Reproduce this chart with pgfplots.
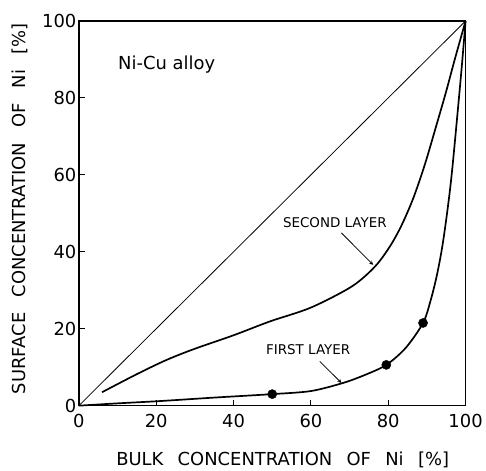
\documentclass[border=0pt]{standalone}
\usepackage{fontspec}
\setmainfont{DejaVu Sans}
\usepackage{pgfplots}
\pgfplotsset{compat=1.18}
\begin{document}
\begin{tikzpicture}
\begin{axis}[
  scale only axis, width=387bp, height=385bp,
  xmin=0, xmax=100, ymin=0, ymax=100,
  xtick={0,20,...,100}, ytick={0,20,...,100},
  tick pos=left, tick align=inside,
  major tick length=6bp,
  tick style={line width=0.9pt, black},
  axis line style={line width=1.4pt},
  /pgf/number format/assume math mode=true,
  ticklabel style={font=\fontsize{18}{18}\selectfont},
  xticklabel style={yshift=-5bp},
  yticklabel style={xshift=1bp},
  clip=false,
]
\path (axis description cs:-0.204,1.0545) (axis description cs:1.052,-0.166);
\addplot[black, line width=0.8pt] coordinates {(0,0) (100,100)};
\addplot[black, line width=1.7pt, smooth, tension=0.5] coordinates {
(6,3.5) (15,8.2) (22.7,11.9) (30,14.8) (40,18.3) (49.4,21.9) (60,25.5) (70.6,31) (76.6,36.2) (80.5,41.5) (83.5,47) (86.5,54) (89.5,62.8) (92.4,72.7) (94.9,81.4) (97.2,90) (100,100)};
\addplot[black, line width=1.7pt, smooth, tension=0.5] coordinates {
(0,0) (10,0.6) (21,1.2) (35,2.1) (50,3) (60,3.8) (68.3,5.9) (74,8) (79.5,10.6) (84.5,15) (89,21.5) (91,27.5) (92.6,34) (94,41.5) (95.4,51.5) (96.6,62) (98.8,85.7) (100,100)};
\addplot[only marks, mark=*, mark size=4.6bp, black] coordinates {(50,3) (79.5,10.6) (89,21.5)};
\node[font=\fontsize{18}{18}\selectfont] at (axis cs:22.7,88.6) {Ni-Cu alloy};
\node[font=\fontsize{13.5}{14}\selectfont] at (axis cs:66.2,47.5) {SECOND LAYER};
\node[font=\fontsize{13.5}{14}\selectfont] at (axis cs:59.3,14.7) {FIRST LAYER};
\draw[-stealth, line width=0.8pt] (axis cs:67.9,44.9) -- (axis cs:76.1,36.6);
\draw[-stealth, line width=0.8pt] (axis cs:62.3,11.5) -- (axis cs:67.9,5.9);
\node[font=\fontsize{18}{18}\selectfont] at (axis description cs:0.527,-0.14) {BULK\hspace{0.8em}CONCENTRATION\hspace{0.8em}OF\hspace{0.8em}Ni\hspace{0.8em}[\%]};
\node[font=\fontsize{18}{18}\selectfont, rotate=90] at (axis description cs:-0.152,0.512) {SURFACE\hspace{0.85em}CONCENTRATION\hspace{0.85em}OF\hspace{0.85em}Ni\hspace{0.85em}[\%]};
\end{axis}
\end{tikzpicture}
\end{document}
